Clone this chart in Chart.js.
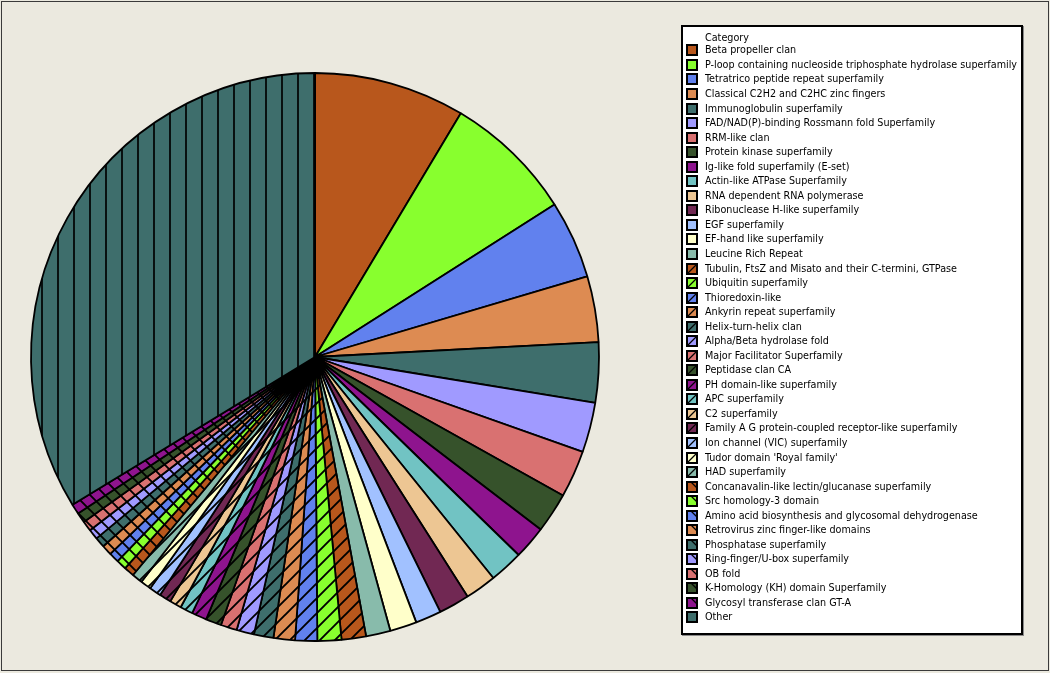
<!DOCTYPE html>
<html>
<head>
<meta charset="utf-8">
<script src="https://cdn.jsdelivr.net/npm/chart.js@4.4.1/dist/chart.umd.min.js"></script>
<style>
  html, body { margin: 0; padding: 0; background: #EBE9DF; }
  #wrap { position: relative; width: 1050px; height: 673px; overflow: hidden; background: #EBE9DF; }
  #frame { position: absolute; left: 1px; top: 1px; width: 1046px; height: 668px; border: 1px solid #3a3a3a; pointer-events: none; }
  #chartBox { position: absolute; left: 0; top: 0; width: 1050px; height: 673px; }
  #legend { position: absolute; left: 681px; top: 25px; width: 342px; height: 610px; box-sizing: border-box;
            border: 2px solid #000; background: #fff; box-shadow: 1px 1px 0 #8a8a8a;
            font-family: "DejaVu Sans Condensed", "DejaVu Sans", sans-serif; font-size: 10.7px; color: #000; }
  .row { position: absolute; left: 0; height: 14px; line-height: 14px; white-space: nowrap; }
  .row span { position: absolute; left: 22px; top: 0; }
  .row canvas { position: absolute; left: 3px; top: 1px; }
</style>
</head>
<body>
<div id="wrap">
  <div id="chartBox"><canvas id="c" width="1050" height="673"></canvas></div>
  <div id="legend"></div>
  <div id="frame"></div>
</div>
<script>
// ---------------- data ----------------
const legendTitle = "Category";
const categories = [
  "Beta propeller clan",
  "P-loop containing nucleoside triphosphate hydrolase superfamily",
  "Tetratrico peptide repeat superfamily",
  "Classical C2H2 and C2HC zinc fingers",
  "Immunoglobulin superfamily",
  "FAD/NAD(P)-binding Rossmann fold Superfamily",
  "RRM-like clan",
  "Protein kinase superfamily",
  "Ig-like fold superfamily (E-set)",
  "Actin-like ATPase Superfamily",
  "RNA dependent RNA polymerase",
  "Ribonuclease H-like superfamily",
  "EGF superfamily",
  "EF-hand like superfamily",
  "Leucine Rich Repeat",
  "Tubulin, FtsZ and Misato and their C-termini, GTPase",
  "Ubiquitin superfamily",
  "Thioredoxin-like",
  "Ankyrin repeat superfamily",
  "Helix-turn-helix clan",
  "Alpha/Beta hydrolase fold",
  "Major Facilitator Superfamily",
  "Peptidase clan CA",
  "PH domain-like superfamily",
  "APC superfamily",
  "C2 superfamily",
  "Family A G protein-coupled receptor-like superfamily",
  "Ion channel (VIC) superfamily",
  "Tudor domain 'Royal family'",
  "HAD superfamily",
  "Concanavalin-like lectin/glucanase superfamily",
  "Src homology-3 domain",
  "Amino acid biosynthesis and glycosomal dehydrogenase",
  "Retrovirus zinc finger-like domains",
  "Phosphatase superfamily",
  "Ring-finger/U-box superfamily",
  "OB fold",
  "K-Homology (KH) domain Superfamily",
  "Glycosyl transferase clan GT-A",
  "Other"
];
// share of each category (percent)
const values = [
  8.58, 7.39, 4.44, 3.75, 3.42, 2.83, 2.69, 2.28, 1.89, 1.92,
  1.78, 1.75, 1.47, 1.53, 1.39, 1.39, 1.36, 1.25, 1.22, 1.11,
  1.00, 0.92, 0.89, 0.86, 0.72, 0.67, 0.67, 0.67, 0.61, 0.61,
  0.58, 0.58, 0.58, 0.58, 0.58, 0.58, 0.58, 0.58, 0.58,
  33.70
];

// ---------------- styles ----------------
const palette = ["#B8571C", "#88FF2E", "#6181EE", "#DD8B52", "#3E6E6C", "#A09AFF", "#D97171", "#36522B",
                 "#8E148E", "#71C3C3", "#EDC693", "#712853", "#A1C1FF", "#FFFFCA", "#88BBAB"];
function styleFor(i) {
  if (i === categories.length - 1) return { color: "#3E6E6C", hatch: "vert" };
  if (i < 15) return { color: palette[i], hatch: "none" };
  if (i < 30) return { color: palette[i - 15], hatch: "slash" };
  return { color: palette[i - 30], hatch: "back" };
}

function makePattern(ctx, color, hatch) {
  if (hatch === "none") return color;
  const size = hatch === "vert" ? 16 : 15;
  const t = document.createElement("canvas");
  t.width = size; t.height = size;
  const g = t.getContext("2d");
  g.fillStyle = color; g.fillRect(0, 0, size, size);
  g.strokeStyle = "#000"; g.lineCap = "square";
  g.beginPath();
  if (hatch === "vert") {
    g.lineWidth = 1.7;
    g.moveTo(10, 0); g.lineTo(10, size);
  } else if (hatch === "slash") {
    g.lineWidth = 1.9;
    g.moveTo(-2, size + 2); g.lineTo(size + 2, -2);
    g.moveTo(-2, 2); g.lineTo(2, -2);
    g.moveTo(size - 2, size + 2); g.lineTo(size + 2, size - 2);
  } else {
    g.lineWidth = 1.9;
    g.moveTo(-2, -2); g.lineTo(size + 2, size + 2);
    g.moveTo(size - 2, -2); g.lineTo(size + 2, 2);
    g.moveTo(-2, size - 2); g.lineTo(2, size + 2);
  }
  g.stroke();
  return ctx.createPattern(t, "repeat");
}

const canvas = document.getElementById("c");
const ctx = canvas.getContext("2d");
const fills = categories.map((_, i) => { const s = styleFor(i); return makePattern(ctx, s.color, s.hatch); });

new Chart(ctx, {
  type: "pie",
  data: {
    labels: categories,
    datasets: [{
      data: values,
      backgroundColor: fills,
      borderColor: "#000",
      borderWidth: 1.8,
      borderAlign: "center"
    }]
  },
  options: {
    responsive: false,
    animation: false,
    events: [],
    radius: 284,
    layout: { padding: { left: 0, right: 420, top: 57, bottom: 16 } },
    plugins: { legend: { display: false }, tooltip: { enabled: false } }
  }
});

// ---------------- legend (HTML) ----------------
const legend = document.getElementById("legend");
const rowStep = 14.54;
const title = document.createElement("div");
title.className = "row";
title.style.top = (37.5 - 25 - 2 - 7) + "px";
title.innerHTML = "<span></span>";
title.firstChild.textContent = legendTitle;
legend.appendChild(title);
categories.forEach((name, i) => {
  const row = document.createElement("div");
  row.className = "row";
  const cy = 50.4 + rowStep * i - 25 - 2;
  row.style.top = (cy - 7) + "px";
  const sw = document.createElement("canvas");
  sw.width = 12; sw.height = 12;
  const g = sw.getContext("2d");
  const s = styleFor(i);
  g.fillStyle = s.color; g.fillRect(0, 0, 12, 12);
  g.strokeStyle = "#000"; g.lineWidth = 1.3;
  if (s.hatch === "slash") { g.beginPath(); g.moveTo(1, 11); g.lineTo(11, 1); g.stroke(); }
  if (s.hatch === "back") { g.beginPath(); g.moveTo(4, 0); g.lineTo(12, 8); g.stroke(); }
  g.lineWidth = 2; g.strokeRect(1, 1, 10, 10);
  row.appendChild(sw);
  const sp = document.createElement("span");
  sp.textContent = name;
  row.appendChild(sp);
  legend.appendChild(row);
});
</script>
</body>
</html>
